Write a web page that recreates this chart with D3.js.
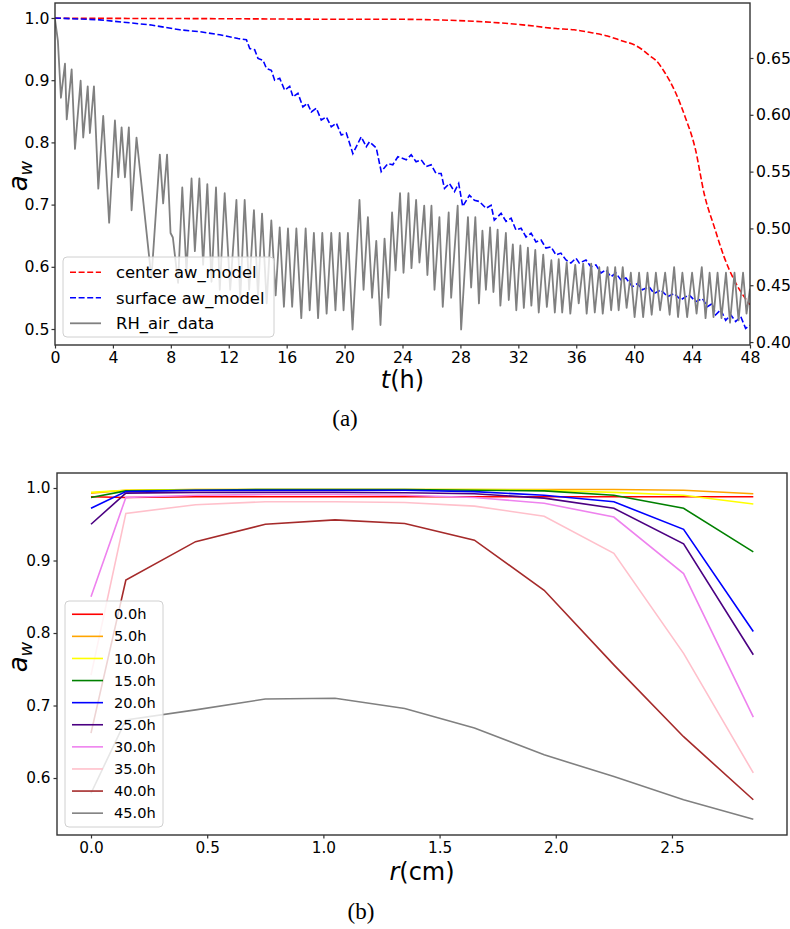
<!DOCTYPE html>
<html>
<head>
<meta charset="utf-8">
<script src="https://cdn.jsdelivr.net/npm/d3@7"></script>
<style>
  body { margin: 0; background: #fff; }
  svg { display: block; }
  text { font-family: "DejaVu Sans", sans-serif; fill: #000; }
</style>
</head>
<body>
<svg id="fig" width="790" height="929"></svg>
<script>
/* DATA */

// (a) time series, t in hours
const centerModel = [[0, 0.9995], [10, 0.999], [20, 0.998], [23.1, 0.998], [27.7, 0.996], [32.3, 0.989], [34.6, 0.983], [35.86, 0.981], [36.9, 0.977], [38.16, 0.971], [39.19, 0.963], [40.0, 0.957], [40.57, 0.949], [41.15, 0.938], [41.5, 0.932], [42.07, 0.914], [42.88, 0.879], [43.52, 0.841], [44.21, 0.791], [44.86, 0.715], [45.52, 0.665], [46.21, 0.616], [46.9, 0.579], [47.59, 0.552], [48.0, 0.539]]

const surfaceModel = [[0, 1.0], [3.1, 0.997], [6.55, 0.989], [8.62, 0.981], [10.0, 0.978], [11.38, 0.973], [12.64, 0.967], [13.22, 0.965], [13.45, 0.951], [13.79, 0.949], [14.02, 0.935], [14.37, 0.932], [14.6, 0.919], [14.94, 0.916], [15.17, 0.9], [15.52, 0.903], [15.86, 0.884], [16.21, 0.89], [16.44, 0.873], [16.78, 0.879], [17.12, 0.857], [17.43, 0.863], [17.7, 0.849], [18.05, 0.855], [18.39, 0.836], [18.74, 0.841], [19.08, 0.825], [19.43, 0.831], [19.77, 0.812], [20.12, 0.815], [20.57, 0.782], [21.15, 0.809], [21.5, 0.793], [21.72, 0.801], [22.19, 0.791], [22.53, 0.753], [22.99, 0.766], [23.33, 0.764], [23.68, 0.777], [24.26, 0.772], [24.6, 0.78], [24.94, 0.769], [25.29, 0.772], [25.63, 0.761], [25.98, 0.764], [26.32, 0.75], [26.67, 0.75], [26.9, 0.726], [27.24, 0.734], [27.59, 0.721], [27.88, 0.734], [28.16, 0.697], [28.62, 0.715], [28.97, 0.707], [29.31, 0.705], [29.77, 0.694], [30.12, 0.699], [30.34, 0.675], [30.81, 0.686], [31.15, 0.673], [31.5, 0.678], [31.84, 0.659], [32.19, 0.662], [32.53, 0.648], [32.88, 0.654], [33.22, 0.64], [33.57, 0.643], [33.91, 0.63], [34.26, 0.632], [34.6, 0.619], [34.94, 0.622], [35.29, 0.611], [35.63, 0.606], [35.98, 0.614], [36.21, 0.606], [36.67, 0.611], [37.01, 0.6], [37.36, 0.603], [37.7, 0.59], [38.05, 0.595], [38.39, 0.584], [38.74, 0.59], [39.08, 0.579], [39.43, 0.582], [39.88, 0.568], [40.23, 0.573], [40.57, 0.563], [41.03, 0.568], [41.38, 0.557], [41.84, 0.563], [42.3, 0.552], [42.76, 0.557], [43.22, 0.547], [43.79, 0.555], [44.26, 0.544], [44.71, 0.549], [45.06, 0.536], [45.4, 0.541], [45.63, 0.523], [45.98, 0.531], [46.32, 0.514], [46.67, 0.523], [47.01, 0.512], [47.36, 0.52], [47.7, 0.501], [48.0, 0.506]]

// RH of the air, plotted against the right-hand axis
const rhAirData = [[0, 0.684], [0.2, 0.665], [0.41, 0.615], [0.69, 0.645], [0.81, 0.596], [1.15, 0.64], [1.38, 0.57], [1.77, 0.63], [1.95, 0.58], [2.26, 0.625], [2.41, 0.584], [2.69, 0.625], [2.99, 0.535], [3.33, 0.599], [3.74, 0.505], [4.14, 0.595], [4.37, 0.545], [4.6, 0.589], [4.83, 0.545], [5.1, 0.589], [5.29, 0.516], [5.63, 0.58], [6.66, 0.456], [7.24, 0.565], [7.47, 0.522], [7.74, 0.565], [7.98, 0.496], [8.14, 0.492], [8.5, 0.452], [8.79, 0.536], [9.08, 0.462], [9.43, 0.544], [9.66, 0.48], [9.97, 0.544], [10.23, 0.468], [10.52, 0.539], [10.81, 0.453], [11.12, 0.536], [11.38, 0.446],
  [11.72, 0.531], [12.1, 0.446], [12.53, 0.525], [12.79, 0.437], [13.1, 0.525], [13.41, 0.446], [13.74, 0.516], [14.02, 0.441], [14.3, 0.513], [14.62, 0.434], [14.94, 0.507], [15.24, 0.441], [15.52, 0.501], [15.81, 0.431], [16.09, 0.5], [16.38, 0.431], [16.67, 0.5], [17.01, 0.421], [17.31, 0.5], [17.59, 0.428], [17.88, 0.496], [18.17, 0.421], [18.46, 0.496], [18.76, 0.425], [19.08, 0.496], [19.37, 0.428], [19.66, 0.496], [19.93, 0.428], [20.23, 0.496], [20.55, 0.411],
  [21.03, 0.525], [21.31, 0.446], [21.61, 0.51], [21.9, 0.439], [22.19, 0.489], [22.48, 0.415], [22.76, 0.491], [23.03, 0.439], [23.28, 0.514], [23.52, 0.463], [23.83, 0.531], [24.07, 0.461], [24.41, 0.531], [24.62, 0.465], [24.94, 0.525], [25.17, 0.47], [25.5, 0.52], [25.72, 0.459], [26.0, 0.52], [26.21, 0.446], [26.55, 0.51], [26.78, 0.431], [27.19, 0.514], [27.36, 0.439], [27.81, 0.52], [28.05, 0.411], [28.52, 0.51], [28.74, 0.448], [29.03, 0.51], [29.28, 0.434], [29.52, 0.498], [29.76, 0.446], [30.05, 0.501], [30.28, 0.444], [30.57, 0.499], [30.76, 0.432],
  [31.14, 0.496], [31.34, 0.437], [31.62, 0.486], [31.86, 0.428], [32.14, 0.485], [32.38, 0.43], [32.66, 0.483], [32.9, 0.432], [33.17, 0.481], [33.41, 0.426], [33.72, 0.477], [33.97, 0.431], [34.28, 0.472], [34.52, 0.426], [34.79, 0.473], [35.03, 0.426], [35.34, 0.47], [35.59, 0.425], [35.93, 0.468], [36.17, 0.434], [36.48, 0.469], [36.72, 0.425], [37.03, 0.469], [37.28, 0.426], [37.59, 0.466], [37.83, 0.425], [38.16, 0.466], [38.41, 0.428], [38.69, 0.466], [38.93, 0.428], [39.21, 0.466], [39.48, 0.43],
  [39.77, 0.461], [40.03, 0.422], [40.34, 0.461], [40.62, 0.422], [40.92, 0.461], [41.21, 0.424], [41.5, 0.461], [41.79, 0.428], [42.14, 0.461], [42.45, 0.424], [42.76, 0.466], [43.03, 0.422], [43.33, 0.461], [43.66, 0.422], [44.0, 0.461], [44.31, 0.425], [44.67, 0.466], [44.93, 0.421], [45.21, 0.461], [45.48, 0.422], [45.76, 0.461], [46.03, 0.421], [46.34, 0.461], [46.62, 0.417], [46.93, 0.461], [47.21, 0.419], [47.52, 0.461], [47.76, 0.425], [48.0, 0.447]]

const tTicks = [0, 4, 8, 12, 16, 20, 24, 28, 32, 36, 40, 44, 48]
const awTicksA = [0.5, 0.6, 0.7, 0.8, 0.9, 1.0]
const rhTicks = [0.40, 0.45, 0.50, 0.55, 0.60, 0.65]
const legendA = ['center aw_model', 'surface aw_model', 'RH_air_data']

// (b) profiles along the radius
const radius = [0, 0.15, 0.45, 0.75, 1.05, 1.35, 1.65, 1.95, 2.25, 2.55, 2.85]
const hours = ['0.0h', '5.0h', '10.0h', '15.0h', '20.0h', '25.0h', '30.0h', '35.0h', '40.0h', '45.0h']
const profiles = [
  [0.988, 0.987, 0.988, 0.988, 0.988, 0.988, 0.988, 0.988, 0.988, 0.988, 0.988],
  [0.993, 0.997, 0.998, 0.998, 0.998, 0.998, 0.998, 0.998, 0.998, 0.997, 0.992],
  [0.994, 0.997, 0.998, 0.998, 0.998, 0.998, 0.998, 0.997, 0.994, 0.990, 0.978],
  [0.987, 0.996, 0.997, 0.998, 0.998, 0.998, 0.997, 0.996, 0.990, 0.972, 0.912],
  [0.972, 0.995, 0.997, 0.997, 0.997, 0.997, 0.995, 0.990, 0.981, 0.943, 0.802],
  [0.950, 0.993, 0.994, 0.994, 0.994, 0.9935, 0.992, 0.986, 0.972, 0.923, 0.770],
  [0.850, 0.987, 0.990, 0.991, 0.991, 0.990, 0.987, 0.979, 0.960, 0.882, 0.684],
  [0.742, 0.965, 0.977, 0.981, 0.981, 0.980, 0.975, 0.961, 0.910, 0.772, 0.607],
  [0.662, 0.873, 0.926, 0.950, 0.956, 0.951, 0.928, 0.859, 0.756, 0.657, 0.570],
  [0.579, 0.680, 0.694, 0.709, 0.710, 0.696, 0.669, 0.632, 0.602, 0.570, 0.543]
]
const rTicks = [0.0, 0.5, 1.0, 1.5, 2.0, 2.5]
const awTicksB = [0.6, 0.7, 0.8, 0.9, 1.0]

/* COLOURS */
const spineColour = '#333'
const profileColours = ['red', 'orange', 'yellow', 'green', 'blue', 'indigo', 'violet', 'pink', 'brown', 'gray']

const svg = d3.select('#fig')

/* HELPERS */

function styleAxis (g, size) {
  g.select('.domain').remove()
  g.selectAll('.tick line').attr('stroke', spineColour).attr('stroke-width', 1.2)
  g.selectAll('.tick text').style('font-size', size + 'px').attr('fill', '#000')
}

function awLabel (x, y) {
  const t = svg.append('text')
    .attr('transform', `translate(${x},${y}) rotate(-90)`)
    .attr('text-anchor', 'middle')
  t.append('tspan').text('a').style('font-style', 'italic').style('font-size', '26px')
  t.append('tspan').text('w').style('font-style', 'italic').style('font-size', '18px').attr('dy', 5)
}

function legend (x, y, w, h, rowH, textX, fontSize, items) {
  const g = svg.append('g')
  g.append('rect')
    .attr('x', x).attr('y', y).attr('width', w).attr('height', h)
    .attr('rx', 4)
    .attr('fill', 'white').attr('fill-opacity', 0.8)
    .attr('stroke', '#d0d0d0').attr('stroke-width', 1)
  items.forEach((d, i) => {
    const cy = y + rowH * 0.6 + i * rowH
    g.append('line')
      .attr('x1', x + 7).attr('x2', x + 38)
      .attr('y1', cy).attr('y2', cy)
      .attr('stroke', d.colour).attr('stroke-width', d.width)
      .attr('stroke-dasharray', d.dash || null)
    g.append('text')
      .attr('x', x + textX).attr('y', cy)
      .attr('dy', '0.35em')
      .style('font-size', fontSize + 'px')
      .text(d.label)
  })
}

/* PANEL (a) */

function drawTop () {
  const left = 55, right = 750, top = 3, bottom = 345
  const x = d3.scaleLinear().domain([0, 48]).range([left, right])
  const yL = d3.scaleLinear().domain([0.4743, 1.0241]).range([bottom, top])
  const yR = d3.scaleLinear().domain([0.3974, 0.6984]).range([bottom, top])

  svg.append('clipPath').attr('id', 'clipA')
    .append('rect').attr('x', left).attr('y', top).attr('width', right - left).attr('height', bottom - top)

  const g = svg.append('g').attr('clip-path', 'url(#clipA)')

  g.append('path')
    .datum(centerModel)
    .attr('fill', 'none').attr('stroke', 'red').attr('stroke-width', 1.6)
    .attr('stroke-dasharray', '6,2.6')
    .attr('d', d3.line().x(d => x(d[0])).y(d => yL(d[1])).curve(d3.curveMonotoneX))

  g.append('path')
    .datum(surfaceModel)
    .attr('fill', 'none').attr('stroke', 'blue').attr('stroke-width', 1.6)
    .attr('stroke-dasharray', '6,2.6')
    .attr('d', d3.line().x(d => x(d[0])).y(d => yL(d[1])))

  g.append('path')
    .datum(rhAirData)
    .attr('fill', 'none').attr('stroke', 'gray').attr('stroke-width', 1.8)
    .attr('stroke-linejoin', 'round')
    .attr('d', d3.line().x(d => x(d[0])).y(d => yR(d[1])))

  const ax = svg.append('g').attr('transform', `translate(0,${bottom})`)
    .call(d3.axisBottom(x).tickValues(tTicks).tickFormat(d3.format('d')).tickSize(3.5).tickPadding(3.5))
  styleAxis(ax, 15.7)

  const ayL = svg.append('g').attr('transform', `translate(${left},0)`)
    .call(d3.axisLeft(yL).tickValues(awTicksA).tickFormat(d3.format('.1f')).tickSize(3.5).tickPadding(2))
  styleAxis(ayL, 15.7)

  const ayR = svg.append('g').attr('transform', `translate(${right},0)`)
    .call(d3.axisRight(yR).tickValues(rhTicks).tickFormat(d3.format('.2f')).tickSize(3.5).tickPadding(2.5))
  styleAxis(ayR, 15.7)

  svg.append('rect')
    .attr('x', left).attr('y', top).attr('width', right - left).attr('height', bottom - top)
    .attr('fill', 'none').attr('stroke', spineColour).attr('stroke-width', 1.4)

  legend(63, 257, 211, 80, 25.5, 53, 16.4, [
    { label: legendA[0], colour: 'red', width: 1.6, dash: '6,2.6' },
    { label: legendA[1], colour: 'blue', width: 1.6, dash: '6,2.6' },
    { label: legendA[2], colour: 'gray', width: 1.8 }
  ])

  awLabel(27, 176)

  const xl = svg.append('text')
    .attr('x', (left + right) / 2).attr('y', 388)
    .attr('text-anchor', 'middle')
    .style('font-size', '24px')
  xl.append('tspan').text('t').style('font-style', 'italic')
  xl.append('tspan').text('(h)')

  svg.append('text')
    .attr('x', 345).attr('y', 426)
    .attr('text-anchor', 'middle')
    .style('font-family', '"Liberation Serif", serif')
    .style('font-size', '23px')
    .text('(a)')
}

/* PANEL (b) */

function drawBottom () {
  const left = 57, right = 787, top = 473, bottom = 835
  const x = d3.scaleLinear().domain([-0.1463, 2.995]).range([left, right])
  const y = d3.scaleLinear().domain([0.5214, 1.0207]).range([bottom, top])

  svg.append('clipPath').attr('id', 'clipB')
    .append('rect').attr('x', left).attr('y', top).attr('width', right - left).attr('height', bottom - top)

  const g = svg.append('g').attr('clip-path', 'url(#clipB)')
  const line = d3.line().x((d, i) => x(radius[i])).y(d => y(d))

  profiles.forEach((p, i) => {
    g.append('path')
      .datum(p)
      .attr('fill', 'none')
      .attr('stroke', profileColours[i])
      .attr('stroke-width', 1.6)
      .attr('d', line)
  })

  const ax = svg.append('g').attr('transform', `translate(0,${bottom})`)
    .call(d3.axisBottom(x).tickValues(rTicks).tickFormat(d3.format('.1f')).tickSize(3.5).tickPadding(3.5))
  styleAxis(ax, 15.3)

  const ay = svg.append('g').attr('transform', `translate(${left},0)`)
    .call(d3.axisLeft(y).tickValues(awTicksB).tickFormat(d3.format('.1f')).tickSize(3.5).tickPadding(3))
  styleAxis(ay, 15.3)

  svg.append('rect')
    .attr('x', left).attr('y', top).attr('width', right - left).attr('height', bottom - top)
    .attr('fill', 'none').attr('stroke', spineColour).attr('stroke-width', 1.4)

  legend(65, 601, 98, 226, 22.1, 49, 14.6, hours.map((h, i) => ({ label: h, colour: profileColours[i], width: 1.6 })))

  awLabel(27, 657)

  const xl = svg.append('text')
    .attr('x', (left + right) / 2).attr('y', 880)
    .attr('text-anchor', 'middle')
    .style('font-size', '24px')
  xl.append('tspan').text('r').style('font-style', 'italic')
  xl.append('tspan').text('(cm)')

  svg.append('text')
    .attr('x', 361).attr('y', 919)
    .attr('text-anchor', 'middle')
    .style('font-family', '"Liberation Serif", serif')
    .style('font-size', '23px')
    .text('(b)')
}

drawTop()
drawBottom()
</script>
</body>
</html>
